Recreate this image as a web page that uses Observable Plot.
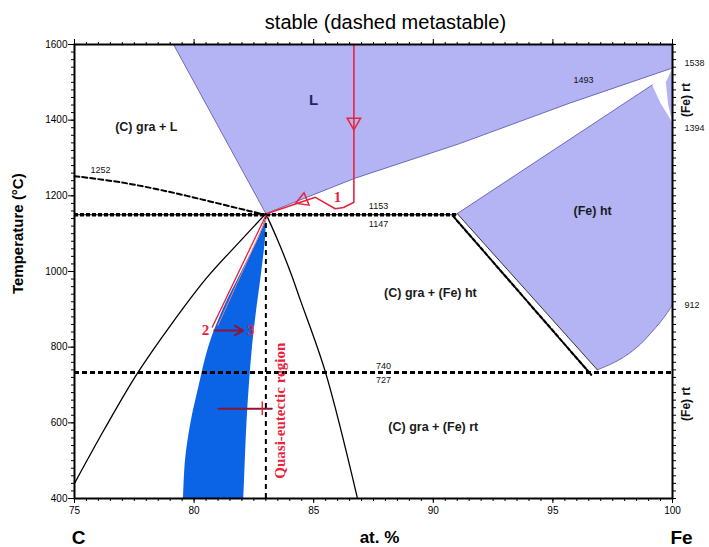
<!DOCTYPE html>
<html><head><meta charset="utf-8">
<script src="https://cdn.jsdelivr.net/npm/d3@7"></script>
<script src="https://cdn.jsdelivr.net/npm/@observablehq/plot@0.6"></script>
<style>body{margin:0;background:#fff} svg{display:block}</style>
</head><body><div id="chart"></div>
<script>
// ---- axis ticks ----
const xTicks = [75, 80, 85, 90, 95, 100];
const yTicks = [400, 600, 800, 1000, 1200, 1400, 1600];
const xMinor = d3.range(75, 100.01, 0.5);
const yMinor = d3.range(400, 1600.1, 20);

// ---- phase regions (at.% Fe, °C) ----
const liquidRegion = [[79.14,1600],[83,1153],[86.7,1246],[91.1,1338],[95.7,1445],[100,1538],[100,1600]];
const austeniteRegion = [[91.0,1153],[99.15,1493],[99.5,1445],[100,1394],[100,912],[99.75,888],[99.5,867],[99.08,836],[98.66,808],[98.2,784],[97.7,764],[97.2,749],[96.86,740],[91.0,1153]];
const ferriteHtRegion = [[100,1538],[99.72,1500],[99.82,1440],[100,1394]];
const liquidusFe = [[83,1153],[86.7,1246],[91.1,1338],[95.7,1445],[100,1538]];
const liquidusC = [[79.14,1600],[83,1153]];
const solidusFe = [[91.0,1153],[99.15,1493]];
const solvusStable = [[91.0,1153],[96.86,740]];
const solvusMeta = [[90.82,1147],[96.6,727]];
const a3Line = [[100,912],[99.75,888],[99.5,867],[99.08,836],[98.66,808],[98.2,784],[97.7,764],[97.2,749],[96.86,740]];
const metaLiquidus = [[75,1252],[77,1235],[79,1210],[81,1180],[82.3,1160],[83,1150]];
const leftCurve = [[83,1153],[81.85,1075],[80.55,985],[79.1,865],[77.62,730],[76.25,583],[75.0,440]];
const rightCurve = [[83,1153],[83.5,1082],[84.03,998],[84.45,923],[85.49,734],[86.82,403]];

// quasi-eutectic (blue) band
const blueT     = [1145, 1100, 1000, 900, 800, 700, 600, 500, 400];
const blueLeft  = [83.0, 82.78, 82.0, 81.22, 80.61, 80.22, 79.87, 79.64, 79.56];
const blueRight = [83.0, 83.0, 82.83, 82.62, 82.44, 82.31, 82.21, 82.14, 82.08];
const blueBand = blueT.map((t,i)=>({t, l: blueLeft[i], r: blueRight[i]}));

// invariant temperatures
const eutecticT = 1150, eutecticEnd = 91.0;
const eutectoidT = 733;
const eutecticX = 83;

// red solidification paths
const path1 = [[86.68,1600],[86.68,1183],[86.25,1169],[85.9,1166],[85.07,1196],[83.06,1153]];
const path2 = [[83.0,1148],[80.76,853]];
const path2b = [[83.06,1145],[81.0,858]];
const arrow23 = [{x1:80.85, x2:82.05, y:844}];
const markerLine = [[81.02,637],[83.25,637]];
const markerTick = [[82.85,622],[82.85,655]];
const redMarkers = [{x:86.68, y:1395, rot:180},{x:84.55, y:1188, rot:248}];

// labels
const regionLabels = [
  {x:78.0,  y:1381, t:"(C) gra + L"},
  {x:89.88, y:944,  t:"(C) gra + (Fe) ht"},
  {x:90.0,  y:588,  t:"(C) gra + (Fe) rt"},
  {x:96.66, y:1161, t:"(Fe) ht"}
];
const tempLabels = [
  {x:76.09, y:1267, t:"1252"},
  {x:87.71, y:1174, t:"1153"},
  {x:87.71, y:1124, t:"1147"},
  {x:87.92, y:751,  t:"740"},
  {x:87.92, y:714,  t:"727"},
  {x:96.28, y:1505, t:"1493"}
];
const rightLabels = [
  {y:1551, t:"1538"},
  {y:1380, t:"1394"},
  {y:912,  t:"912"}
];
const rightPhase = [{y:1453, t:"(Fe) rt"},{y:650, t:"(Fe) rt"}];
const stepLabels = [
  {x:86.0,  y:1196, t:"1"},
  {x:80.48, y:846,  t:"2"},
  {x:82.36, y:846,  t:"3"}
];

const purple = "#b4b4f4", purpleEdge = "#6b6bb8", red = "#e8243c", blue = "#0b63e5";
const line = (d, o={}) => Plot.line(d, {x: p=>p[0], y: p=>p[1], ...o});

const chart = Plot.plot({
  width: 709, height: 547,
  marginTop: 44, marginBottom: 49, marginLeft: 74, marginRight: 37,
  x: {domain: [75, 100], label: null},
  y: {domain: [400, 1600], label: null},
  style: {fontFamily: "Liberation Sans, Arial, sans-serif", background: "white", color: "black"},
  marks: [
    // regions
    line(liquidRegion, {fill: purple, stroke: "none"}),
    line(austeniteRegion, {fill: purple, stroke: "none"}),
    line(ferriteHtRegion, {fill: purple, stroke: "none"}),
    Plot.areaX(blueBand, {y: "t", x1: "l", x2: "r", fill: blue, curve: "catmull-rom"}),
    // boundaries
    line(liquidusFe, {stroke: purpleEdge, strokeWidth: 1}),
    line(liquidusC, {stroke: purpleEdge, strokeWidth: 1}),
    line(solidusFe, {stroke: purpleEdge, strokeWidth: 1}),
    line(a3Line, {stroke: purpleEdge, strokeWidth: 1, curve: "catmull-rom"}),
    line(solvusMeta, {stroke: "black", strokeWidth: 2.2, strokeDasharray: "4,2"}),
    line(solvusStable, {stroke: "#333", strokeWidth: 1}),
    line(metaLiquidus, {stroke: "black", strokeWidth: 2, strokeDasharray: "5,3", curve: "catmull-rom"}),
    line(leftCurve, {stroke: "black", strokeWidth: 1.3, curve: "catmull-rom"}),
    line(rightCurve, {stroke: "black", strokeWidth: 1.3, curve: "catmull-rom"}),
    Plot.ruleX([eutecticX], {y1: 400, y2: eutecticT, stroke: "black", strokeWidth: 2, strokeDasharray: "5,4"}),
    Plot.ruleY([eutecticT], {x1: 75, x2: eutecticEnd, stroke: "black", strokeWidth: 1}),
    Plot.ruleY([eutecticT], {x1: 75, x2: eutecticEnd, stroke: "black", strokeWidth: 3.5, strokeDasharray: "4,2"}),
    Plot.ruleY([eutectoidT], {stroke: "black", strokeWidth: 3, strokeDasharray: "5,3"}),
    // red annotations
    line(path1, {stroke: red, strokeWidth: 1.6}),
    line(path2, {stroke: red, strokeWidth: 1.3}),
    line(path2b, {stroke: "#f08070", strokeWidth: 1}),
    Plot.arrow(arrow23, {x1: "x1", x2: "x2", y1: "y", y2: "y", stroke: "#8b1538", strokeWidth: 2, headLength: 7}),
    line(markerLine, {stroke: "#8b1538", strokeWidth: 2}),
    line(markerTick, {stroke: red, strokeWidth: 1.5}),
    Plot.dot(redMarkers, {x: "x", y: "y", rotate: "rot", symbol: "triangle", r: 5, stroke: red, fill: "none", strokeWidth: 1.5}),
    Plot.text(stepLabels, {x: "x", y: "y", text: "t", fill: red, fontSize: 15, fontWeight: "bold", fontFamily: "Liberation Serif, serif"}),
    Plot.text(["Quasi-eutectic region"], {x: 83.61, y: 632, rotate: -90, fill: red, fontSize: 15, fontWeight: "bold", fontFamily: "Liberation Serif, serif"}),
    // labels
    Plot.text(["L"], {x: 84.99, y: 1452, fill: "#23236b", fontSize: 15, fontWeight: "bold"}),
    Plot.text(regionLabels, {x: "x", y: "y", text: "t", fontSize: 12.5, fontWeight: "bold", fill: "#1a1a1a"}),
    Plot.text(tempLabels, {x: "x", y: "y", text: "t", fontSize: 9, fill: "#111"}),
    Plot.text(rightLabels, {x: 100, y: "y", text: "t", fontSize: 9, dx: 12, textAnchor: "start", fill: "#111"}),
    Plot.text(rightPhase, {x: 100, y: "y", text: "t", fontSize: 12, fontWeight: "bold", dx: 14, rotate: -90, fill: "#111"}),
    // axes / frame
    Plot.axisX({anchor: "top", ticks: xMinor, tickSize: 3, tickFormat: () => ""}),
    Plot.axisX({anchor: "top", ticks: xTicks, tickSize: 6, tickFormat: () => ""}),
    Plot.axisX({anchor: "bottom", ticks: xMinor, tickSize: 3, tickFormat: () => ""}),
    Plot.axisX({anchor: "bottom", ticks: xTicks, tickSize: 5, tickPadding: 3, fontSize: 10, tickFormat: d => String(d)}),
    Plot.axisY({anchor: "left", ticks: yMinor, tickSize: 3, tickFormat: () => ""}),
    Plot.axisY({anchor: "left", ticks: yTicks, tickSize: 6, tickPadding: 1, fontSize: 10, tickFormat: d => String(d)}),
    Plot.axisY({anchor: "right", ticks: yMinor, tickSize: 3, tickFormat: () => ""}),
    Plot.frame({stroke: "black", strokeWidth: 2}),
    // titles
    Plot.text(["stable (dashed metastable)"], {x: 88.0, y: 1600, dy: -22, fontSize: 20}),
    Plot.text(["Temperature (°C)"], {x: 75, y: 1100, dx: -56, rotate: -90, fontSize: 15, fontWeight: "bold"}),
    Plot.text(["C"], {x: 75.17, y: 400, dy: 39, fontSize: 19, fontWeight: "bold"}),
    Plot.text(["at. %"], {x: 87.75, y: 400, dy: 39, fontSize: 17, fontWeight: "bold"}),
    Plot.text(["Fe"], {x: 100.38, y: 400, dy: 39, fontSize: 19, fontWeight: "bold"})
  ]
});
document.getElementById("chart").append(chart);
</script></body></html>
